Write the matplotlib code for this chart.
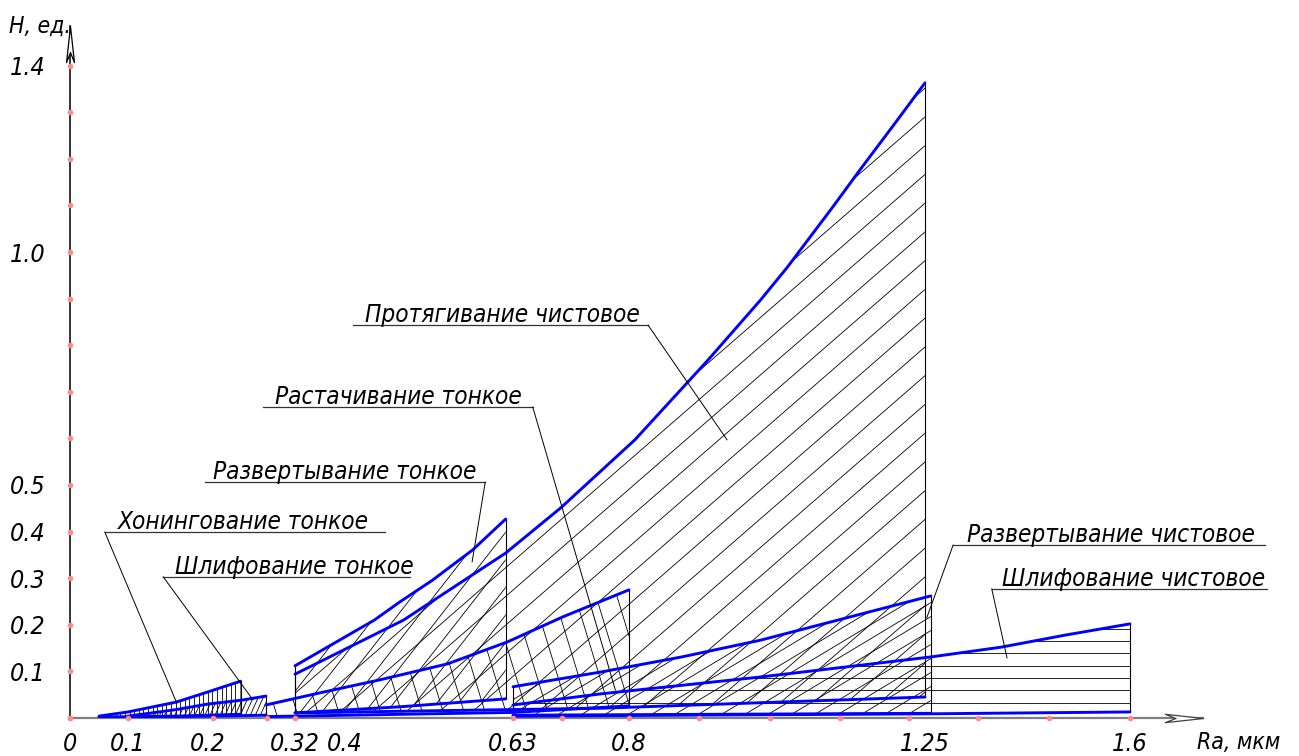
import numpy as np
import matplotlib
matplotlib.use("Agg")
import matplotlib.pyplot as plt
from matplotlib.patches import Polygon
from matplotlib.collections import LineCollection
from matplotlib.path import Path
from matplotlib import font_manager

# ---------------------------------------------------------------- data
ra_ticks = [0, 0.1, 0.2, 0.32, 0.4, 0.63, 0.8, 1.25, 1.6]
ra_tick_labels = ["0", "0.1", "0.2", "0.32", "0.4", "0.63", "0.8", "1.25", "1.6"]
h_ticks = [0.1, 0.2, 0.3, 0.4, 0.5, 1.0, 1.4]
h_tick_labels = ["0.1", "0.2", "0.3", "0.4", "0.5", "1.0", "1.4"]
ra_marks = [0, 0.1, 0.207, 0.281, 0.32, 0.63, 0.702, 0.8, 0.906, 1.014,
            1.121, 1.226, 1.34, 1.462, 1.6]
h_marks = [0.0, 0.1, 0.2, 0.3, 0.4, 0.5, 0.6, 0.7, 0.8, 0.9, 1.0, 1.1,
           1.2, 1.3, 1.4]

# Хонингование тонкое
honing_ra = [0.05, 0.1, 0.16, 0.2, 0.245]
honing_top = [0.004, 0.013, 0.034, 0.056, 0.079]
honing_bot_ra = [0.05, 0.16, 0.245]
honing_bot = [0.002, 0.004, 0.008]

# Шлифование тонкое
grind_fine_ra = [0.1, 0.16, 0.2, 0.245, 0.28]
grind_fine_top = [0.004, 0.018, 0.03, 0.038, 0.047]
grind_fine_bot_ra = [0.1, 0.2, 0.28]
grind_fine_bot = [0.002, 0.004, 0.006]

# Развертывание тонкое
ream_fine_ra = [0.32, 0.44, 0.475, 0.52, 0.575, 0.62]
ream_fine_top = [0.112, 0.21, 0.249, 0.296, 0.361, 0.427]
ream_fine_bot_ra = [0.32, 0.475, 0.62]
ream_fine_bot = [0.011, 0.024, 0.041]

# Растачивание тонкое
bore_fine_ra = [0.28, 0.36, 0.448, 0.54, 0.622, 0.703, 0.8]
bore_fine_top = [0.028, 0.054, 0.082, 0.116, 0.163, 0.217, 0.275]
bore_fine_bot_ra = [0.28, 0.63, 0.8]
bore_fine_bot = [0.003, 0.012, 0.026]

# Протягивание чистовое
broach_ra = [0.32, 0.48, 0.62, 0.70, 0.809, 0.92, 1.0, 1.04, 1.11, 1.151,
             1.2, 1.25]
broach_top = [0.094, 0.21, 0.354, 0.451, 0.597, 0.768, 0.897, 0.966, 1.097,
              1.176, 1.268, 1.363]
broach_bot_ra = [0.32, 0.76, 1.25]
broach_bot = [0.011, 0.021, 0.045]

# Развертывание чистовое
ream_fin_ra = [0.63, 0.76, 0.88, 1.0, 1.26]
ream_fin_top = [0.067, 0.099, 0.131, 0.167, 0.262]
ream_fin_bot_ra = [0.63, 1.26]
ream_fin_bot = [0.006, 0.010]

# Шлифование чистовое
grind_fin_ra = [0.63, 0.76, 1.0, 1.26, 1.38, 1.49, 1.6]
grind_fin_top = [0.028, 0.052, 0.088, 0.131, 0.152, 0.178, 0.202]
grind_fin_bot_ra = [0.63, 1.26, 1.6]
grind_fin_bot = [0.004, 0.009, 0.013]

# region: (top x, top y, bottom x, bottom y, hatch angle [deg], hatch step [px])
regions = [
    (grind_fin_ra, grind_fin_top, grind_fin_bot_ra, grind_fin_bot, 0, 12.3),
    (ream_fin_ra, ream_fin_top, ream_fin_bot_ra, ream_fin_bot, 31, 12.0),
    (broach_ra, broach_top, broach_bot_ra, broach_bot, 41, 21.7),
    (bore_fine_ra, bore_fine_top, bore_fine_bot_ra, bore_fine_bot, 107, 20.0),
    (ream_fine_ra, ream_fine_top, ream_fine_bot_ra, ream_fine_bot, 52, 17.0),
    (grind_fine_ra, grind_fine_top, grind_fine_bot_ra, grind_fine_bot, 66, 4.6),
    (honing_ra, honing_top, honing_bot_ra, honing_bot, 90, 4.6),
]

# label text, text x, shelf x0, shelf x1, shelf y, leader start x, leader end (x, y)
labels = [
    ("Протягивание чистовое", 0.427, 0.411, 0.829, 0.843, 0.829, (0.949, 0.597)),
    ("Растачивание тонкое", 0.293, 0.276, 0.659, 0.667, 0.659, (0.78, 0.06)),
    ("Развертывание тонкое", 0.207, 0.196, 0.592, 0.506, 0.592, (0.574, 0.335)),
    ("Хонингование тонкое", 0.083, 0.060, 0.455, 0.399, 0.060, (0.161, 0.032)),
    ("Шлифование тонкое", 0.159, 0.144, 0.489, 0.303, 0.144, (0.262, 0.039)),
    ("Развертывание чистовое", 1.322, 1.298, 1.83, 0.371, 1.298, (1.253, 0.215)),
    ("Шлифование чистовое", 1.381, 1.364, 1.834, 0.277, 1.364, (1.39, 0.129)),
]

# ---------------------------------------------------------------- style
# prefer a narrow face, like drafting lettering
FAMILY, STRETCH, FS, FS_TICK, FS_AX = "DejaVu Sans", "normal", 15.5, 16, 15
narrow = [f for f in font_manager.fontManager.ttflist
          if ("Narrow" in f.name or "Condensed" in f.name
              or f.stretch in ("condensed", "semi-condensed"))
          and f.style in ("italic", "oblique")]
if narrow:
    FAMILY, STRETCH = narrow[0].name, narrow[0].stretch
    FS, FS_TICK, FS_AX = 17.5, 18, 16.5
plt.rcParams["font.family"] = [FAMILY, "DejaVu Sans"]
TXT = dict(style="italic", fontstretch=STRETCH)

BLUE = "#0000ff"
DOT = "#ff8a8a"

# non-uniform Ra axis of the drawing: piecewise linear between these knots
knot_ra = np.array([-10, 0, 0.1, 0.2, 0.32, 0.4, 0.63, 0.8, 1.25, 1.6, 10])
knot_u = np.array([70 - 5800, 70, 128, 208, 295, 345, 513, 629, 925, 1130,
                   1130 + 8.4 * 585.7])


def fwd(x):
    return np.interp(x, knot_ra, knot_u)


def inv(u):
    return np.interp(u, knot_u, knot_ra)


W, H = 1299, 756
fig = plt.figure(figsize=(W / 100, H / 100), dpi=100)
ax = fig.add_axes([70 / W, 38 / H, 1133 / W, 692 / H])
ax.set_xscale("function", functions=(fwd, inv))
ax.set_xlim(0, float(inv(1203)))
ax.set_ylim(0, 692 / 466)

for s in ("top", "right"):
    ax.spines[s].set_visible(False)
ax.spines["left"].set_color("black")
ax.spines["left"].set_linewidth(1.1)
ax.spines["bottom"].set_color("#7f7f7f")
ax.spines["bottom"].set_linewidth(1.6)

ax.set_xticks(ra_ticks)
ax.set_xticklabels(ra_tick_labels, fontsize=FS_TICK, **TXT)
ax.set_yticks(h_ticks)
ax.set_yticklabels(h_tick_labels, fontsize=FS_TICK, ha="left", **TXT)
ax.tick_params(axis="x", length=0, pad=10)
ax.tick_params(axis="y", length=0, pad=43)
ax.minorticks_off()


def hatch_region(xt, yt, xb, yb, angle, step):
    verts = np.column_stack([np.r_[xt, xb[::-1]], np.r_[yt, yb[::-1]]])
    clip = Polygon(verts, closed=True, facecolor="none", edgecolor="none",
                   transform=ax.transData)
    ax.add_patch(clip)
    disp = ax.transData.transform(verts)
    c = disp.mean(axis=0)
    a = np.deg2rad(angle)
    d = np.array([np.cos(a), np.sin(a)])
    n = np.array([-np.sin(a), np.cos(a)])
    proj = (disp - c) @ n
    L = np.ptp(disp, axis=0).sum()
    tinv = ax.transData.inverted()
    segs = []
    for t in np.arange(np.floor(proj.min() / step) * step, proj.max() + step, step):
        p = c + t * n
        segs.append(tinv.transform(np.array([p - L * d, p + L * d])))
    lc = LineCollection(segs, colors="black", linewidths=0.6, zorder=2)
    lc.set_clip_path(clip)
    ax.add_collection(lc, autolim=False)


for xt, yt, xb, yb, ang, step in regions:
    xt, yt, xb, yb = map(np.asarray, (xt, yt, xb, yb))
    hatch_region(xt, yt, xb, yb, ang, step)
    # boundaries of the zone
    ax.plot([xt[-1], xt[-1]], [yb[-1], yt[-1]], color="black", lw=0.8, zorder=3)
    ax.plot([xt[0], xt[0]], [yb[0], yt[0]], color="black", lw=0.8, zorder=3)
    ax.plot(xt, yt, color=BLUE, lw=2.1, zorder=4, solid_capstyle="round",
            solid_joinstyle="round")
    ax.plot(xb, yb, color=BLUE, lw=2.1, zorder=4, solid_capstyle="round")

# leaders and labels
for text, tx, x0, x1, y, lx, (ex, ey) in labels:
    ax.plot([x0, x1], [y, y], color="#333333", lw=0.9, clip_on=False, zorder=5)
    ax.plot([lx, ex], [y, ey], color="black", lw=0.7, clip_on=False, zorder=5)
    ax.text(tx, y + 0.006, text, fontsize=FS, ha="left", va="baseline",
            clip_on=False, zorder=6, **TXT)

# reference marks on both axes
ax.plot(ra_marks, [0] * len(ra_marks), "o", color=DOT, ms=4, mew=0,
        clip_on=False, zorder=7)
ax.plot([0] * len(h_marks), h_marks, "o", color=DOT, ms=4, mew=0,
        clip_on=False, zorder=7)

# drafting-style arrowheads at the axis ends
up_arrow = Path([(0, 0), (-0.11, -1), (0, -0.72), (0.11, -1), (0, 0)],
                [Path.MOVETO, Path.LINETO, Path.LINETO, Path.LINETO, Path.CLOSEPOLY])
right_arrow = Path([(0, 0), (-1, 0.11), (-0.72, 0), (-1, -0.11), (0, 0)],
                   [Path.MOVETO, Path.LINETO, Path.LINETO, Path.LINETO, Path.CLOSEPOLY])
ax.plot([0], [1], marker=up_arrow, ms=52, mfc="white", mec="black", mew=0.9,
        transform=ax.transAxes, clip_on=False, zorder=8)
ax.plot([1], [0], marker=right_arrow, ms=55, mfc="white", mec="#404040", mew=0.9,
        transform=ax.transAxes, clip_on=False, zorder=8)

fig.text(9 / W, 1 - 33 / H, "H, ед.", fontsize=FS_AX, ha="left",
         va="baseline", **TXT)
fig.text(1197 / W, 1 - 749 / H, "Ra, мкм", fontsize=FS_AX, ha="left",
         va="baseline", **TXT)

fig.savefig("out.png", dpi=100, facecolor="white")
